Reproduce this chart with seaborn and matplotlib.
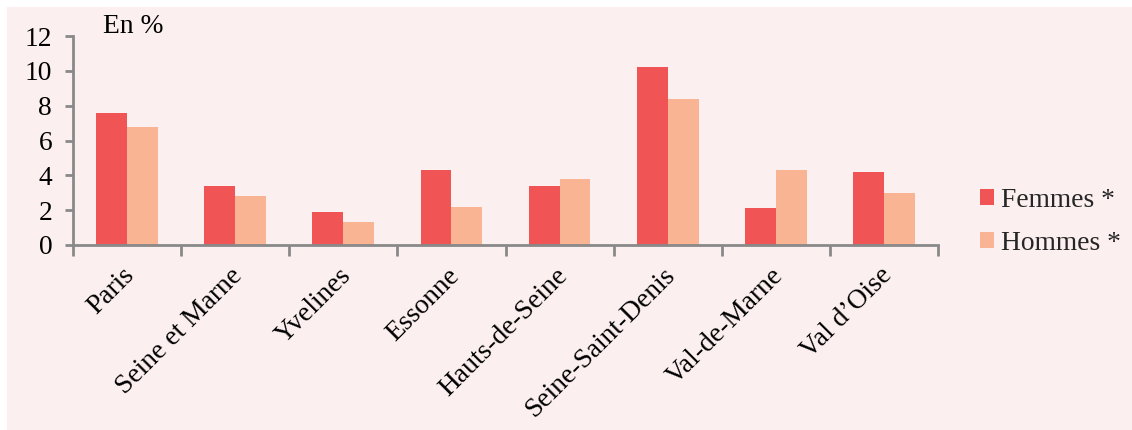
import matplotlib
matplotlib.use("Agg")
import matplotlib.pyplot as plt
import matplotlib.transforms as mtransforms
from matplotlib.patches import Rectangle, Patch
import seaborn as sns
import pandas as pd

departements = ["Paris", "Seine et Marne", "Yvelines", "Essonne",
                "Hauts-de-Seine", "Seine-Saint-Denis", "Val-de-Marne", "Val d\u2019Oise"]
femmes = [7.6, 3.4, 1.9, 4.3, 3.4, 10.2, 2.1, 4.2]
hommes = [6.8, 2.8, 1.3, 2.2, 3.8, 8.4, 4.3, 3.0]
series = ["Femmes *", "Hommes *"]
y_ticks = [0, 2, 4, 6, 8, 10, 12]

FONT = "Liberation Serif"
FS = 19.8
BG = "#FCEFEF"
AXIS = "#898989"
colors = {"Femmes *": "#F05454", "Hommes *": "#F8B493"}

df = pd.DataFrame({
    "departement": departements * 2,
    "serie": [series[0]] * len(departements) + [series[1]] * len(departements),
    "valeur": femmes + hommes,
})

sns.set_theme(style="white")
plt.rcParams["font.family"] = [FONT, "DejaVu Serif"]

fig = plt.figure(figsize=(11.32, 4.30), dpi=100)
fig.patch.set_facecolor("white")
fig.patches.append(Rectangle((7 / 1132, 0), 1 - 7 / 1132, 1 - 7 / 430,
                             transform=fig.transFigure, facecolor=BG,
                             edgecolor="none", zorder=-10))

ax = fig.add_axes([73 / 1132, 1 - 245 / 430, (938 - 73) / 1132, (245 - 36) / 430])
ax.set_facecolor(BG)

sns.barplot(data=df, x="departement", y="valeur", hue="serie",
            order=departements, hue_order=series, palette=colors,
            width=0.57, gap=0, saturation=1, legend=False, linewidth=0,
            ax=ax)

ax.set_xlim(-0.5, len(departements) - 0.5)
ax.set_ylim(0, 12)
ax.set_yticks(y_ticks)
ax.set_yticklabels([str(t) for t in y_ticks], fontsize=FS, color="black")
ax.set_xlabel("")
ax.set_ylabel("")

for side in ["top", "right"]:
    ax.spines[side].set_visible(False)
for side in ["left", "bottom"]:
    ax.spines[side].set_color(AXIS)
    ax.spines[side].set_linewidth(2)

ax.tick_params(axis="y", which="major", left=True, length=6, width=2,
               color=AXIS, pad=9)

# category labels at centres, tick marks between categories
ax.set_xticks(range(len(departements)))
ax.set_xticklabels(departements, fontsize=FS, rotation=45, ha="right",
                   va="top", rotation_mode="anchor", color="black")
ax.tick_params(axis="x", which="major", bottom=False, length=0, pad=13)
ax.set_xticks([i - 0.5 for i in range(len(departements) + 1)], minor=True)
ax.tick_params(axis="x", which="minor", bottom=True, length=8, width=2,
               color=AXIS)
shift = mtransforms.ScaledTranslation(-5 / 100, 0, fig.dpi_scale_trans)
for lab in ax.get_xticklabels():
    lab.set_transform(lab.get_transform() + shift)

fig.text(103 / 1132, 1 - 33 / 430, "En %", fontsize=FS, ha="left",
         va="baseline", color="black")

handles = [Patch(facecolor=colors[s], edgecolor="none") for s in series]
fig.legend(handles, series, loc="center left",
           bbox_to_anchor=(980 / 1132, 1 - 222 / 430), frameon=False,
           borderaxespad=0, borderpad=0,
           fontsize=FS, handlelength=0.5, handleheight=0.5,
           handletextpad=0.25, labelspacing=0.65)

fig.savefig("out.png", dpi=100, facecolor=fig.get_facecolor())
